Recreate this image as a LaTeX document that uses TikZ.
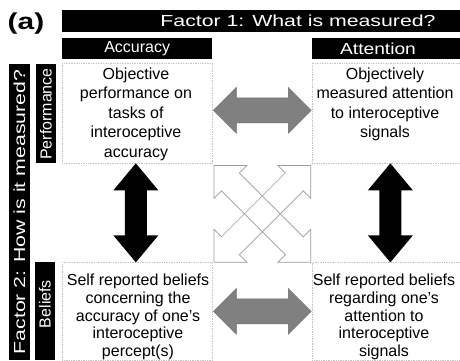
\documentclass[tikz,border=0pt]{standalone}
\usepackage{fontspec}
\setmainfont{Liberation Sans}
\usepackage{graphicx}
\usetikzlibrary{calc}

\definecolor{boxline}{RGB}{195,195,195}
\definecolor{arrgray}{RGB}{128,128,128}
\definecolor{crossgray}{RGB}{155,155,155}

% center, angle, half length, head half width, head length, shaft half width, style
\newcommand\DArrow[7]{%
\begin{scope}[shift={(#1)},rotate=#2]
\path[#7] (-#3,0) -- ({-#3+#5},#4) -- ({-#3+#5},#6) -- ({#3-#5},#6) -- ({#3-#5},#4)
  -- (#3,0) -- ({#3-#5},-#4) -- ({#3-#5},-#6) -- ({-#3+#5},-#6) -- ({-#3+#5},-#4) -- cycle;
\end{scope}}

\tikzset{
  bar/.style={fill=black,inner sep=0pt,anchor=north west},
  bartext/.style={text=white,inner sep=0pt,font=\fontsize{16}{19.5}\selectfont},
  cell/.style={draw=boxline,densely dotted,line width=0.7pt,inner sep=0pt,anchor=north west},
  body/.style={align=center,inner sep=0pt,anchor=north,font=\fontsize{16}{19.5}\selectfont},
  bodylow/.style={body,font=\fontsize{16}{17.6}\selectfont},
  grayarrow/.style={fill=arrgray,draw=arrgray!85!black,line width=0.3pt},
  blackarrow/.style={fill=black},
  crossarrow/.style={draw=crossgray,line width=0.7pt,line join=miter},
}

\begin{document}
\begin{tikzpicture}[x=1pt,y=-1pt]
\useasboundingbox[fill=white] (0,0) rectangle (460,360);

% label
\node[inner sep=0pt,font=\fontsize{23}{26}\selectfont\bfseries] (lab) at (26,24) {\scalebox{1.3}[1]{(a)}};

% header bars
\node[bar,minimum width=398pt,minimum height=22pt] (f1) at (62,10) {};
\node[bartext] (f1t) at (298,21) {\scalebox{1.33}[1]{Factor 1: What is measured?}};
\node[bar,minimum width=150pt,minimum height=21pt] (acc) at (62,38) {};
\node[bartext] (acct) at (acc.center) {Accuracy};
\node[bar,minimum width=148pt,minimum height=21pt] (att) at (312,38) {};
\node[bartext] (attt) at (378,48.5) {\scalebox{1.2}[1]{Attention}};

% side bars
\node[bar,minimum width=21pt,minimum height=296pt] (f2) at (9,64) {};
\node[bartext,rotate=90] (f2t) at (19.5,212) {\scalebox{1.33}[1]{Factor 2: How is it measured?}};
\node[bar,minimum width=20pt,minimum height=99pt] (perf) at (36,64) {};
\node[bartext,rotate=90] (perft) at (46,114) {Performance};
\node[bar,minimum width=20pt,minimum height=98pt] (bel) at (35,262) {};
\node[bartext,rotate=90] (belt) at (45,304) {Beliefs};

% cells
\node[cell,minimum width=150pt,minimum height=100pt] (tl) at (62,63) {};
\node[cell,minimum width=148pt,minimum height=100pt] (tr) at (312,63) {};
\node[cell,minimum width=150pt,minimum height=98pt] (bl) at (62,262) {};
\node[cell,minimum width=148pt,minimum height=98pt] (br) at (312,262) {};

\node[body] (tlt) at (136,67.5) {Objective\\performance on\\tasks of\\interoceptive\\accuracy};
\node[body] (trt) at (385,67.5) {Objectively\\measured attention\\to interoceptive\\signals};
\node[bodylow] (blt) at (138,274) {Self reported beliefs\\concerning the\\accuracy of one's\\interoceptive\\percept(s)};
\node[bodylow] (brt) at (384,274) {Self reported beliefs\\regarding one's\\attention to\\interoceptive\\signals};

% arrow anchors
\coordinate (gtop) at ($(tl.east)!0.5!(tr.west)+(0,-3)$);
\coordinate (gbot) at ($(bl.east)!0.5!(br.west)$);
\coordinate (bleft) at ($(tl.south)!0.5!(bl.north)+(-1.5,0)$);
\coordinate (bright) at ($(tr.south)!0.5!(br.north)+(4,0)$);
\coordinate (cross) at ($(tl.south east)!0.5!(br.north west)+(0,1)$);

\DArrow{gtop}{0}{49}{23}{23}{12.5}{grayarrow}
\DArrow{gbot}{0}{49}{23}{23}{12.5}{grayarrow}
\DArrow{bleft}{90}{49.5}{22.5}{27}{11}{blackarrow}
\DArrow{bright}{90}{49.5}{22.5}{27}{11}{blackarrow}
\DArrow{cross}{45}{68.5}{23.3}{23.3}{12.7}{crossarrow}
\DArrow{cross}{-45}{68.5}{23.3}{23.3}{12.7}{crossarrow}
\end{tikzpicture}
\end{document}
